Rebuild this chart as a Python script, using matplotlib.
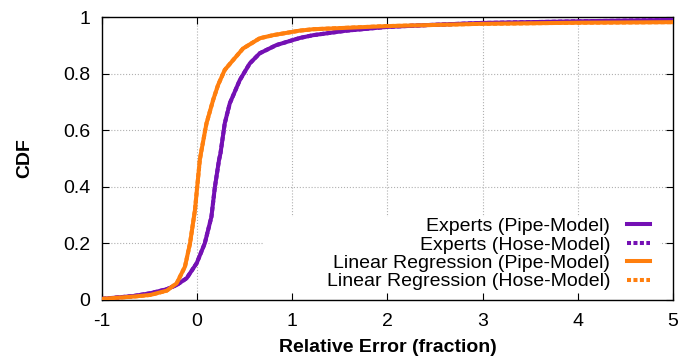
import matplotlib
matplotlib.use("Agg")
import matplotlib.pyplot as plt
from matplotlib.patches import Rectangle

plt.rcParams['font.family'] = ['Liberation Sans', 'DejaVu Sans']
plt.rcParams['axes.unicode_minus'] = False

# CDF values
exp_x = [-1.0, -0.67, -0.49, -0.32, -0.215, -0.11, -0.005, 0.08, 0.15, 0.186, 0.23, 0.245,
         0.29, 0.343, 0.448, 0.553, 0.658, 0.833, 1.078, 1.22, 1.57, 1.99, 2.44, 2.97, 4.0, 5.0]
exp_y = [0.004, 0.014, 0.024, 0.038, 0.053, 0.077, 0.13, 0.2, 0.294, 0.398, 0.495, 0.518,
         0.624, 0.695, 0.777, 0.836, 0.872, 0.901, 0.926, 0.936, 0.952, 0.965, 0.972, 0.979, 0.985, 0.99]

lr_x = [-1.0, -0.67, -0.49, -0.32, -0.215, -0.128, -0.075, -0.023, 0.0, 0.028, 0.046, 0.098,
        0.168, 0.22, 0.29, 0.378, 0.483, 0.658, 0.798, 1.078, 1.22, 1.99, 2.97, 4.0, 5.0]
lr_y = [0.004, 0.012, 0.018, 0.033, 0.059, 0.118, 0.2, 0.318, 0.398, 0.495, 0.53, 0.624,
        0.707, 0.76, 0.813, 0.848, 0.889, 0.925, 0.936, 0.952, 0.957, 0.968, 0.976, 0.98, 0.982]

# hose-model curves sit right under the pipe-model ones
exp_hose_y = exp_y
lr_hose_y = lr_y

purple = '#7410b4'
orange = '#ff7f0e'

fig = plt.figure(figsize=(6.81, 3.63), dpi=100)
ax = fig.add_axes([0.1498, 0.1736, 0.988 - 0.1498, 0.953 - 0.1736])

# dotted grid, then the white key box over it (like gnuplot)
for gx in range(0, 5):
    ax.axvline(gx, color='#b0b0b0', ls=':', lw=0.8, zorder=0.5)
for gy in [0.2, 0.4, 0.6, 0.8]:
    ax.axhline(gy, color='#b0b0b0', ls=':', lw=0.8, zorder=0.5)
ax.add_patch(Rectangle((0.282, 0.0), 0.977 - 0.282, 0.293, transform=ax.transAxes,
                       facecolor='white', edgecolor='none', zorder=0.8))

ax.plot(exp_x, exp_hose_y, color=purple, lw=2.9, ls=(0, (1, 0.6)), label='Experts (Hose-Model)', zorder=2)
ax.plot(lr_x, lr_hose_y, color=orange, lw=2.9, ls=(0, (1, 0.6)), label='Linear Regression (Hose-Model)', zorder=2)
ax.plot(exp_x, exp_y, color=purple, lw=2.9, label='Experts (Pipe-Model)', zorder=3)
ax.plot(lr_x, lr_y, color=orange, lw=2.9, label='Linear Regression (Pipe-Model)', zorder=3)

ax.set_xlim(-1, 5)
ax.set_ylim(0, 1)
ax.set_xticks(range(-1, 6))
ax.set_yticks([0, 0.2, 0.4, 0.6, 0.8, 1])
ax.set_yticklabels(['0', '0.2', '0.4', '0.6', '0.8', '1'])
ax.tick_params(direction='in', length=5, top=True, right=True, labelsize=14)
ax.tick_params(axis='y', pad=8.6)
ax.tick_params(axis='x', pad=9.5)
for s in ax.spines.values():
    s.set_linewidth(1.0)

ax.set_xlabel('Relative Error (fraction)', fontsize=14, fontweight='bold', labelpad=6)
ax.set_ylabel('CDF', fontsize=14, fontweight='bold', labelpad=21)

h, l = ax.get_legend_handles_labels()
order = [2, 0, 3, 1]
leg = ax.legend([h[i] for i in order], [l[i] for i in order], loc='lower right',
                markerfirst=False, fontsize=14, frameon=False,
                handlelength=1.2, handletextpad=0.85,
                labelspacing=0.04, borderpad=0, borderaxespad=0,
                bbox_to_anchor=(0.96, 0.034))
leg.set_zorder(5)

fig.savefig('out.png', dpi=100)
